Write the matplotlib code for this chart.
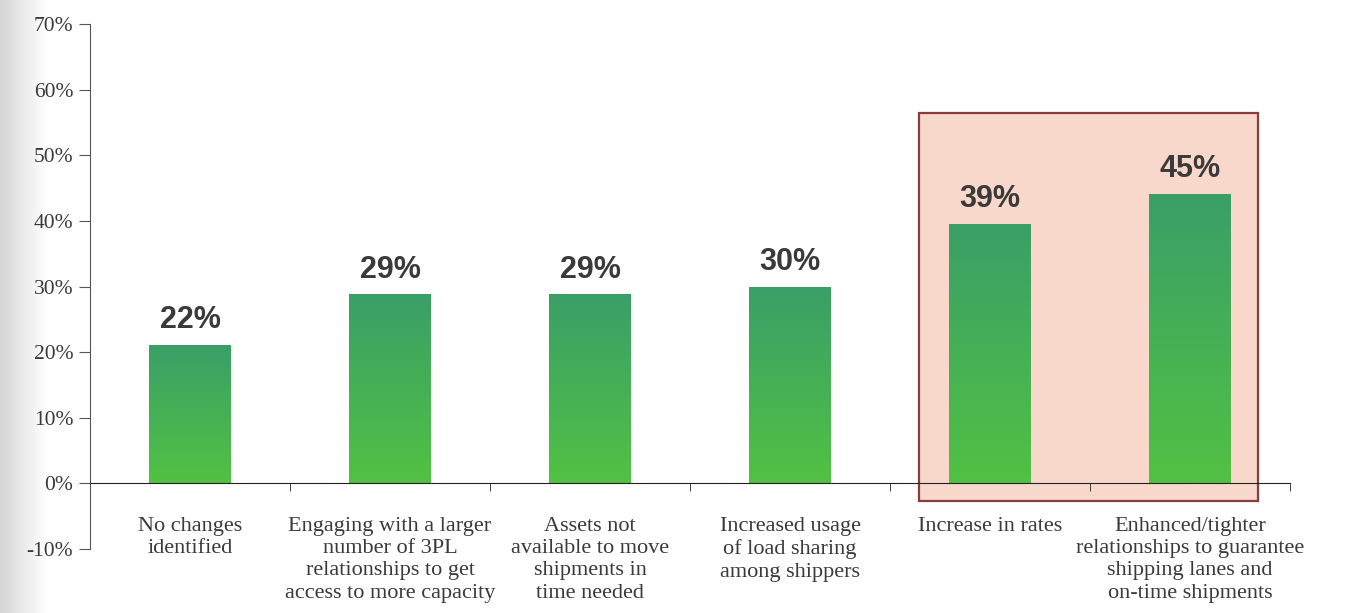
import numpy as np
import matplotlib
matplotlib.use("Agg")
import matplotlib.pyplot as plt
from matplotlib.colors import LinearSegmentedColormap

CATEGORIES = [
    "No changes\nidentified",
    "Engaging with a larger\nnumber of 3PL\nrelationships to get\naccess to more capacity",
    "Assets not\navailable to move\nshipments in\ntime needed",
    "Increased usage\nof load sharing\namong shippers",
    "Increase in rates",
    "Enhanced/tighter\nrelationships to guarantee\nshipping lanes and\non-time shipments",
]
BAR_HEIGHTS = [21.1, 28.8, 28.8, 30.0, 39.6, 44.1]
BAR_LABELS = ["22%", "29%", "29%", "30%", "39%", "45%"]
Y_TICKS = [-10, 0, 10, 20, 30, 40, 50, 60, 70]

SERIF = ["Liberation Serif", "DejaVu Serif"]
SANS = ["Liberation Sans", "DejaVu Sans"]
TEXT_COLOR = "#3a3a3a"

green_cmap = LinearSegmentedColormap.from_list("bar_green", ["#52c143", "#3a9f68"])

fig = plt.figure(figsize=(13.45, 6.13), dpi=100)

# faint scanner shading on the far left
shade = fig.add_axes([0, 0, 0.035, 1], zorder=-5)
shade.imshow(np.linspace(0, 1, 64)[None, :], cmap=LinearSegmentedColormap.from_list(
    "shade", ["#d6d6d6", "#ffffff"]), aspect="auto", extent=[0, 1, 0, 1])
shade.axis("off")

ax = fig.add_axes([90 / 1345, 64 / 613, 1200 / 1345, 525 / 613])
ax.patch.set_alpha(0)
ax.set_xlim(-0.5, 5.5)
ax.set_ylim(-10, 70)

# highlight box around the last two categories
ax.add_patch(plt.Rectangle((3.645, -2.7), 1.695, 59.2, facecolor="#f8d8ca",
                           edgecolor="#8a3b3b", linewidth=1.6, zorder=1))

width = 0.41
x = np.arange(len(CATEGORIES))
bars = ax.bar(x, BAR_HEIGHTS, width=width, color="none", zorder=2)
grad = np.linspace(0, 1, 256)[:, None]
for bar, label in zip(bars, BAR_LABELS):
    bx, by = bar.get_x(), bar.get_y()
    bw, bh = bar.get_width(), bar.get_height()
    im = ax.imshow(grad, cmap=green_cmap, origin="lower", aspect="auto",
                   extent=[bx, bx + bw, by, by + bh], zorder=3)
    im.set_clip_path(bar)
    ax.text(bx + bw / 2, by + bh + 1.5, label, ha="center", va="bottom",
            fontsize=22, fontweight="bold", family=SANS, color=TEXT_COLOR, zorder=4)

ax.set_xlim(-0.5, 5.5)
ax.set_ylim(-10, 70)

for side in ["top", "right"]:
    ax.spines[side].set_visible(False)
ax.spines["bottom"].set_position(("data", 0))
ax.spines["bottom"].set_bounds(-0.5, 5.5)
ax.spines["bottom"].set_zorder(5)
ax.spines["left"].set_color("#555555")
ax.spines["bottom"].set_color("#222222")

ax.set_yticks(Y_TICKS)
ax.set_yticklabels([f"{t}%" for t in Y_TICKS], family=SERIF, fontsize=15.5, color=TEXT_COLOR)
ax.tick_params(axis="y", length=8, color="#555555", pad=4)

ax.set_xticks(x)
ax.set_xticklabels(CATEGORIES, family=SERIF, fontsize=16, color=TEXT_COLOR, linespacing=1.24)
ax.tick_params(axis="x", which="major", length=0, pad=24)
ax.set_xticks(np.arange(0.5, 6.0, 1.0), minor=True)
ax.tick_params(axis="x", which="minor", length=6, color="#222222")

fig.savefig("out.png", dpi=100)
